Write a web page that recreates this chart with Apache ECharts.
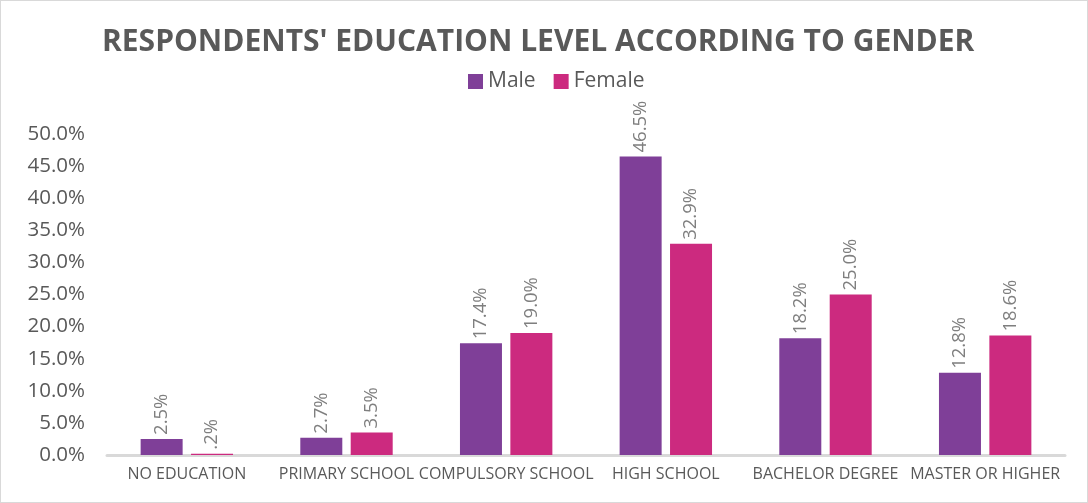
<!DOCTYPE html>
<html><head><meta charset="utf-8">
<script src="https://cdn.jsdelivr.net/npm/echarts@6/dist/echarts.min.js"></script>
<style>html,body{margin:0;padding:0;background:#fff}#c{width:1088px;height:503px;box-sizing:border-box;border:1px solid #d9d9d9}</style>
</head><body><div id="c"></div>
<script>
const categories = ['NO EDUCATION','PRIMARY SCHOOL','COMPULSORY SCHOOL','HIGH SCHOOL','BACHELOR DEGREE','MASTER OR HIGHER'];
const male = [2.5, 2.7, 17.4, 46.5, 18.2, 12.8];
const female = [0.2, 3.5, 19.0, 32.9, 25.0, 18.6];
const yTicks = [0,5,10,15,20,25,30,35,40,45,50];
const fmt = v => { let s = v.toFixed(1); if (s.startsWith('0.')) s = s.slice(1); return s + '%'; };
const chart = echarts.init(document.getElementById('c'));
const lbl = {show:true, position:'top', rotate:90, align:'left', verticalAlign:'middle', distance:4, color:'#7f7f7f', fontSize:18.5, fontFamily:'Open Sans', formatter:p=>fmt(p.value)};
chart.setOption({
  animation:false,
  title:{text:"RESPONDENTS' EDUCATION LEVEL ACCORDING TO GENDER", left:96, top:21, textStyle:{fontFamily:'Open Sans', fontWeight:'bold', fontSize:30, color:'#595959'}},
  legend:{top:65, left:462, itemWidth:15, itemHeight:15, itemGap:18, itemTextGap:4, icon:'rect', textStyle:{fontFamily:'Open Sans', fontSize:21, color:'#595959'}, data:['Male','Female']},
  grid:{left:106, right:22, top:133, bottom:47},
  xAxis:{type:'category', data:categories, axisLine:{lineStyle:{color:'#d9d9d9', width:3}}, axisTick:{show:false}, axisLabel:{color:'#595959', fontFamily:'Open Sans', fontSize:16, margin:11, interval:0}},
  yAxis:{type:'value', min:0, max:50, interval:5, axisLine:{show:false}, axisTick:{show:false}, splitLine:{show:false}, axisLabel:{color:'#595959', fontFamily:'Open Sans', fontSize:20.5, margin:22, formatter:v=>v.toFixed(1)+'%'}},
  series:[
    {name:'Male', type:'bar', data:male, barWidth:42, barGap:'20%', itemStyle:{color:'#7f3f98'}, label:lbl},
    {name:'Female', type:'bar', data:female, barWidth:42, itemStyle:{color:'#cc2a7f'}, label:lbl}
  ]
});
</script></body></html>
